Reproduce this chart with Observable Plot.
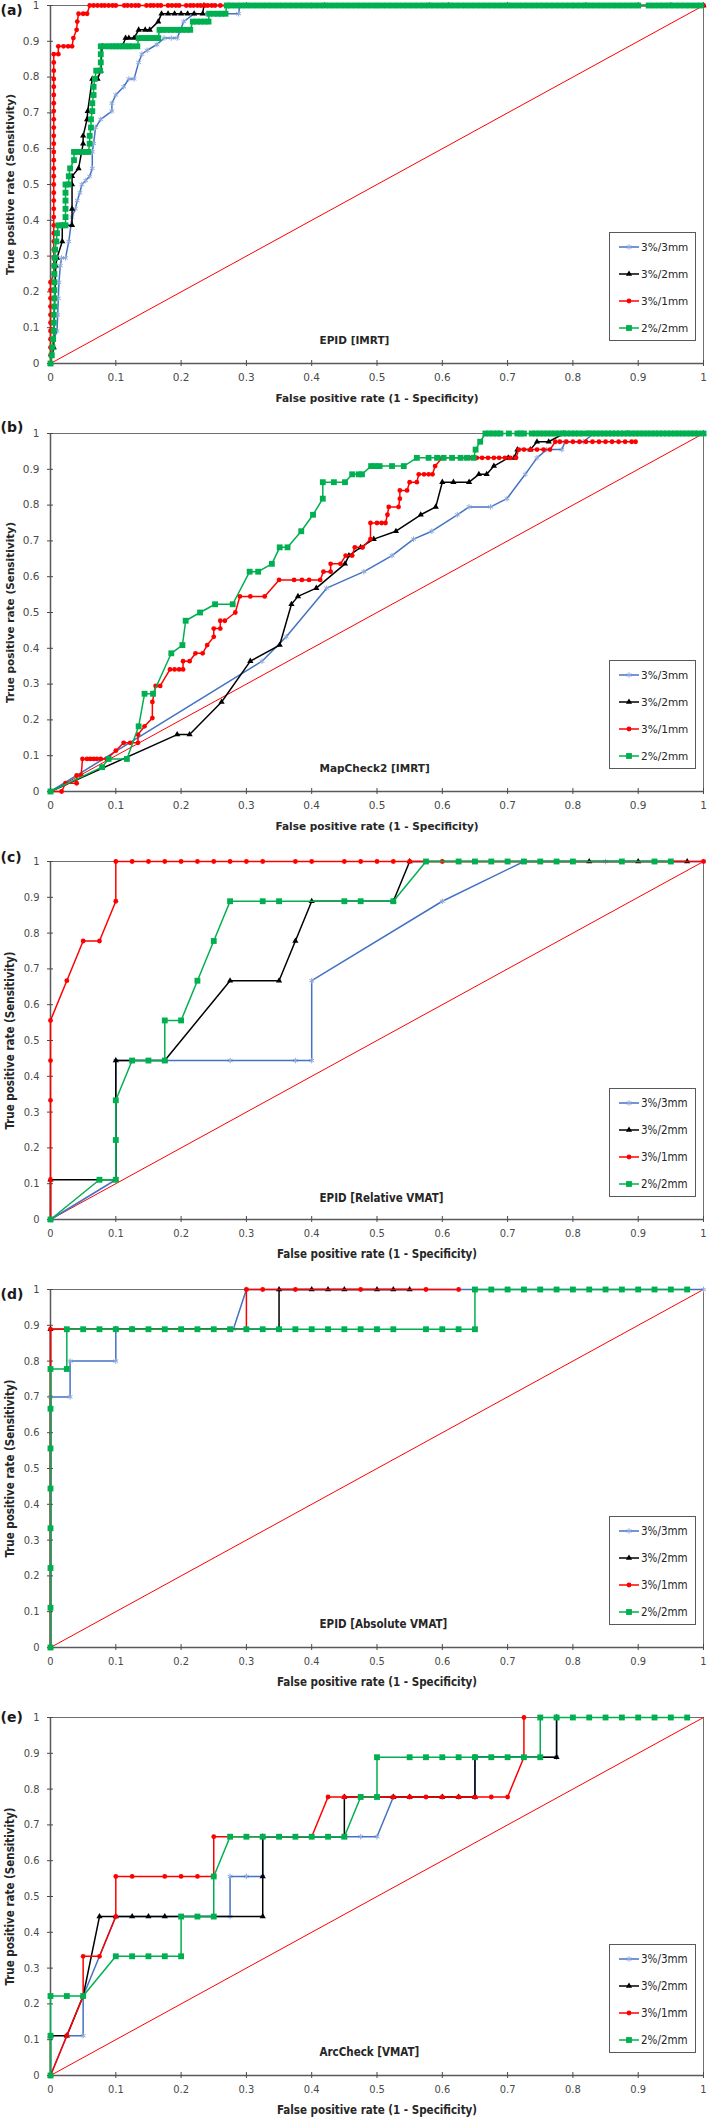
<!DOCTYPE html>
<html><head><meta charset="utf-8">
<script src="https://cdn.jsdelivr.net/npm/d3@7"></script>
<script src="https://cdn.jsdelivr.net/npm/@observablehq/plot@0.6"></script>
<style>
body{margin:0;background:#fff;}
.panel{position:relative;width:709px;overflow:visible;}
.panel svg{display:block;overflow:visible;}
.legend{position:absolute;border:1px solid #595959;background:#fff;box-sizing:border-box;}
.legend .row{position:absolute;left:0;display:flex;align-items:center;height:14px;color:#262626;white-space:nowrap;}
</style></head><body><div id="chart"></div>
<script>
// ---------- shared labels ----------
const seriesNames = ["3%/3mm", "3%/2mm", "3%/1mm", "2%/2mm"];
const lineColors = ["#4472C4", "#000000", "#FF0000", "#00B050"];
const markerColors = ["#8FAADC", "#000000", "#FF0000", "#00B050"];
const markerSymbols = ["asterisk", "triangle", "circle", "square"];
const markerRadii = [2.6, 2.3, 2.4, 3.3];
const xTicks = [0, 0.1, 0.2, 0.3, 0.4, 0.5, 0.6, 0.7, 0.8, 0.9, 1];
const yTicks = [0, 0.1, 0.2, 0.3, 0.4, 0.5, 0.6, 0.7, 0.8, 0.9, 1];
const diagX = [0, 1];
const diagY = [0, 1];
const xTitle = "False positive rate (1 - Specificity)";
const yTitle = "True positive rate (Sensitivity)";
const panelLabels = ["(a)", "(b)", "(c)", "(d)", "(e)"];
const panelTitles = ["EPID [IMRT]", "MapCheck2 [IMRT]", "EPID [Relative VMAT]", "EPID [Absolute VMAT]", "ArcCheck [VMAT]"];

// ---------- (a) EPID [IMRT] ----------
const a33 = [[0,0],[0.003,0.045],[0.005,0.068],[0.01,0.091],[0.011,0.136],[0.012,0.182],[0.013,0.227],[0.015,0.273],[0.017,0.295],[0.023,0.295],[0.028,0.341],[0.033,0.409],[0.038,0.432],[0.041,0.455],[0.045,0.477],[0.048,0.5],[0.054,0.511],[0.06,0.523],[0.064,0.545],[0.064,0.591],[0.066,0.614],[0.069,0.659],[0.077,0.682],[0.094,0.705],[0.094,0.727],[0.1,0.75],[0.112,0.773],[0.12,0.795],[0.128,0.795],[0.135,0.841],[0.14,0.864],[0.148,0.875],[0.163,0.891],[0.174,0.909],[0.185,0.909],[0.194,0.909],[0.204,0.955],[0.22,0.977],[0.24,0.977],[0.26,0.977],[0.288,0.977],[0.29,1],[0.4,1],[0.5,1],[0.6,1],[0.7,1],[0.8,1],[0.9,1],[1,1]];
const a32 = [[0,0],[0.005,0.045],[0.005,0.091],[0.008,0.273],[0.01,0.295],[0.018,0.341],[0.018,0.386],[0.033,0.386],[0.033,0.432],[0.033,0.5],[0.033,0.523],[0.043,0.545],[0.05,0.614],[0.05,0.636],[0.056,0.682],[0.057,0.705],[0.064,0.795],[0.072,0.795],[0.077,0.818],[0.079,0.886],[0.11,0.886],[0.115,0.909],[0.12,0.909],[0.128,0.909],[0.135,0.932],[0.145,0.932],[0.152,0.932],[0.165,0.955],[0.17,0.977],[0.18,0.977],[0.19,0.977],[0.2,0.977],[0.21,0.977],[0.22,0.977],[0.233,0.977],[0.235,1],[0.3,1],[0.42,1],[0.58,1],[0.61,1],[0.7,1],[0.82,1],[0.9,1],[0.95,1],[1,1]];
const a31 = [[0,0],[0,0.023],[0,0.045],[0,0.068],[0,0.091],[0,0.114],[0,0.136],[0,0.159],[0,0.182],[0,0.205],[0,0.227],[0.005,0.25],[0.005,0.273],[0.005,0.295],[0.005,0.318],[0.005,0.341],[0.005,0.364],[0.005,0.386],[0.005,0.409],[0.005,0.432],[0.005,0.455],[0.005,0.477],[0.005,0.5],[0.005,0.523],[0.005,0.545],[0.005,0.568],[0.005,0.591],[0.005,0.614],[0.005,0.636],[0.005,0.659],[0.005,0.682],[0.005,0.705],[0.005,0.727],[0.005,0.75],[0.005,0.773],[0.005,0.795],[0.005,0.818],[0.005,0.841],[0.005,0.864],[0.012,0.864],[0.012,0.886],[0.02,0.886],[0.027,0.886],[0.033,0.886],[0.035,0.909],[0.04,0.932],[0.041,0.955],[0.043,0.977],[0.05,0.977],[0.056,0.977],[0.06,1],[0.066,1],[0.072,1],[0.078,1],[0.083,1],[0.089,1],[0.095,1],[0.1,1],[0.113,1],[0.118,1],[0.124,1],[0.13,1],[0.135,1],[0.147,1],[0.153,1],[0.158,1],[0.164,1],[0.169,1],[0.18,1],[0.186,1],[0.192,1],[0.197,1],[0.208,1],[0.214,1],[0.219,1],[0.225,1],[0.23,1],[0.236,1],[0.241,1],[0.247,1],[0.252,1],[0.26,1],[0.3,1],[0.35,1],[0.43,1],[0.52,1],[0.55,1],[0.62,1],[0.7,1],[0.8,1],[0.9,1],[1,1]];
const a22 = [[0,0],[0.002,0.023],[0.003,0.045],[0.004,0.068],[0.005,0.091],[0.005,0.114],[0.005,0.136],[0.006,0.159],[0.006,0.182],[0.006,0.205],[0.006,0.227],[0.006,0.25],[0.006,0.273],[0.007,0.295],[0.007,0.318],[0.009,0.341],[0.01,0.364],[0.012,0.386],[0.018,0.386],[0.023,0.386],[0.023,0.409],[0.023,0.432],[0.023,0.455],[0.023,0.477],[0.023,0.5],[0.028,0.5],[0.028,0.523],[0.03,0.545],[0.036,0.568],[0.036,0.591],[0.042,0.591],[0.048,0.591],[0.054,0.591],[0.058,0.591],[0.06,0.614],[0.06,0.636],[0.062,0.659],[0.062,0.682],[0.064,0.705],[0.064,0.727],[0.066,0.75],[0.066,0.773],[0.068,0.795],[0.07,0.818],[0.076,0.818],[0.077,0.841],[0.077,0.864],[0.077,0.886],[0.083,0.886],[0.09,0.886],[0.095,0.886],[0.1,0.886],[0.105,0.886],[0.11,0.886],[0.115,0.886],[0.12,0.886],[0.125,0.886],[0.133,0.886],[0.135,0.909],[0.14,0.909],[0.145,0.909],[0.15,0.909],[0.155,0.909],[0.16,0.909],[0.165,0.909],[0.167,0.932],[0.172,0.932],[0.178,0.932],[0.184,0.932],[0.19,0.932],[0.196,0.932],[0.202,0.932],[0.208,0.932],[0.214,0.932],[0.218,0.955],[0.224,0.955],[0.23,0.955],[0.236,0.955],[0.242,0.955],[0.243,0.977],[0.25,0.977],[0.256,0.977],[0.262,0.977],[0.268,0.977],[0.27,1],[0.276,1],[0.284,1],[0.292,1],[0.3,1],[0.308,1],[0.316,1],[0.324,1],[0.332,1],[0.34,1],[0.348,1],[0.356,1],[0.364,1],[0.372,1],[0.38,1],[0.388,1],[0.396,1],[0.404,1],[0.412,1],[0.42,1],[0.428,1],[0.436,1],[0.444,1],[0.452,1],[0.46,1],[0.468,1],[0.476,1],[0.484,1],[0.492,1],[0.5,1],[0.508,1],[0.516,1],[0.524,1],[0.532,1],[0.54,1],[0.548,1],[0.556,1],[0.564,1],[0.572,1],[0.58,1],[0.588,1],[0.596,1],[0.604,1],[0.612,1],[0.62,1],[0.628,1],[0.636,1],[0.644,1],[0.652,1],[0.66,1],[0.668,1],[0.676,1],[0.684,1],[0.692,1],[0.7,1],[0.708,1],[0.716,1],[0.724,1],[0.732,1],[0.74,1],[0.748,1],[0.756,1],[0.764,1],[0.772,1],[0.78,1],[0.788,1],[0.796,1],[0.804,1],[0.812,1],[0.82,1],[0.828,1],[0.836,1],[0.844,1],[0.852,1],[0.86,1],[0.868,1],[0.876,1],[0.884,1],[0.892,1],[0.9,1],[0.916,1],[0.924,1],[0.932,1],[0.94,1],[0.948,1],[0.956,1],[0.964,1],[0.972,1],[0.98,1],[0.988,1],[0.996,1]];

// ---------- (b) MapCheck2 [IMRT] ----------
const b33 = [[0,0],[0.324,0.364],[0.361,0.432],[0.423,0.568],[0.48,0.614],[0.523,0.659],[0.556,0.705],[0.584,0.727],[0.623,0.773],[0.641,0.795],[0.674,0.795],[0.699,0.818],[0.727,0.886],[0.745,0.932],[0.76,0.955],[0.783,0.955],[0.788,0.977],[0.816,0.977],[0.832,1],[1,1]];
const b32 = [[0,0],[0.194,0.159],[0.213,0.159],[0.262,0.25],[0.306,0.364],[0.351,0.409],[0.369,0.523],[0.379,0.545],[0.407,0.568],[0.451,0.636],[0.457,0.659],[0.475,0.682],[0.495,0.705],[0.529,0.727],[0.567,0.773],[0.59,0.795],[0.6,0.864],[0.617,0.864],[0.641,0.864],[0.656,0.886],[0.668,0.886],[0.679,0.909],[0.701,0.932],[0.71,0.932],[0.715,0.955],[0.735,0.955],[0.745,0.977],[0.763,0.977],[0.786,1],[0.823,1],[0.884,1],[1,1]];
const b31 = [[0,0],[0.017,0],[0.023,0.023],[0.04,0.023],[0.04,0.045],[0.047,0.045],[0.049,0.091],[0.056,0.091],[0.061,0.091],[0.066,0.091],[0.071,0.091],[0.077,0.091],[0.086,0.091],[0.1,0.114],[0.112,0.136],[0.122,0.136],[0.134,0.136],[0.134,0.159],[0.144,0.182],[0.156,0.205],[0.156,0.25],[0.161,0.295],[0.168,0.295],[0.183,0.341],[0.19,0.341],[0.197,0.341],[0.203,0.341],[0.203,0.364],[0.213,0.364],[0.222,0.386],[0.233,0.386],[0.24,0.409],[0.25,0.432],[0.25,0.455],[0.26,0.455],[0.26,0.477],[0.267,0.477],[0.283,0.5],[0.29,0.545],[0.306,0.545],[0.328,0.545],[0.35,0.591],[0.373,0.591],[0.385,0.591],[0.396,0.591],[0.413,0.591],[0.418,0.614],[0.429,0.614],[0.429,0.636],[0.444,0.636],[0.452,0.659],[0.462,0.659],[0.466,0.682],[0.478,0.682],[0.49,0.705],[0.49,0.75],[0.5,0.75],[0.507,0.75],[0.513,0.75],[0.516,0.773],[0.518,0.795],[0.533,0.795],[0.535,0.818],[0.535,0.841],[0.546,0.841],[0.55,0.864],[0.561,0.864],[0.564,0.886],[0.572,0.886],[0.579,0.886],[0.585,0.886],[0.589,0.909],[0.6,0.932],[0.628,0.932],[0.636,0.932],[0.645,0.932],[0.653,0.932],[0.661,0.932],[0.67,0.932],[0.679,0.932],[0.687,0.932],[0.696,0.932],[0.704,0.932],[0.713,0.932],[0.717,0.955],[0.725,0.955],[0.735,0.955],[0.745,0.955],[0.755,0.955],[0.765,0.955],[0.773,0.977],[0.78,0.977],[0.79,0.977],[0.8,0.977],[0.81,0.977],[0.82,0.977],[0.83,0.977],[0.84,0.977],[0.85,0.977],[0.86,0.977],[0.87,0.977],[0.88,0.977],[0.89,0.977],[0.896,0.977]];
const b22 = [[0,0],[0.079,0.068],[0.089,0.091],[0.117,0.091],[0.135,0.182],[0.144,0.273],[0.157,0.273],[0.185,0.386],[0.202,0.409],[0.207,0.477],[0.229,0.5],[0.252,0.523],[0.279,0.523],[0.305,0.614],[0.318,0.614],[0.339,0.636],[0.351,0.682],[0.363,0.682],[0.384,0.727],[0.402,0.773],[0.417,0.818],[0.417,0.864],[0.434,0.864],[0.451,0.864],[0.462,0.886],[0.472,0.886],[0.477,0.886],[0.491,0.909],[0.497,0.909],[0.504,0.909],[0.523,0.909],[0.541,0.909],[0.561,0.932],[0.579,0.932],[0.592,0.932],[0.602,0.932],[0.615,0.932],[0.628,0.932],[0.638,0.932],[0.648,0.932],[0.651,0.955],[0.658,0.977],[0.666,1],[0.672,1],[0.678,1],[0.684,1],[0.689,1],[0.702,1],[0.715,1],[0.72,1],[0.725,1],[0.737,1],[0.743,1],[0.749,1],[0.755,1],[0.761,1],[0.767,1],[0.773,1],[0.779,1],[0.785,1],[0.791,1],[0.797,1],[0.803,1],[0.809,1],[0.816,1],[0.824,1],[0.83,1],[0.836,1],[0.842,1],[0.848,1],[0.854,1],[0.86,1],[0.866,1],[0.872,1],[0.878,1],[0.884,1],[0.89,1],[0.896,1],[0.902,1],[0.908,1],[0.914,1],[0.92,1],[0.926,1],[0.932,1],[0.938,1],[0.944,1],[0.95,1],[0.956,1],[0.962,1],[0.968,1],[0.974,1],[0.98,1],[0.986,1],[0.992,1],[1,1]];

// ---------- (c) EPID [Relative VMAT] ----------
const c33 = [[0,0],[0.1,0.111],[0.1,0.444],[0.275,0.444],[0.375,0.444],[0.4,0.444],[0.4,0.667],[0.6,0.889],[0.725,1],[0.85,1],[1,1]];
const c32 = [[0,0],[0,0.111],[0.1,0.111],[0.1,0.444],[0.175,0.444],[0.275,0.667],[0.35,0.667],[0.375,0.778],[0.4,0.889],[0.525,0.889],[0.55,1],[0.825,1],[0.9,1],[0.975,1]];
const c31 = [[0,0],[0,0.111],[0,0.333],[0,0.444],[0,0.556],[0.025,0.667],[0.05,0.778],[0.075,0.778],[0.1,0.889],[0.1,1],[0.125,1],[0.15,1],[0.175,1],[0.2,1],[0.225,1],[0.25,1],[0.275,1],[0.3,1],[0.325,1],[0.375,1],[0.4,1],[0.45,1],[0.475,1],[0.5,1],[0.525,1],[0.55,1],[0.6,1],[1,1]];
const c22 = [[0,0],[0.075,0.111],[0.1,0.111],[0.1,0.222],[0.1,0.333],[0.125,0.444],[0.15,0.444],[0.175,0.444],[0.175,0.556],[0.2,0.556],[0.225,0.667],[0.25,0.778],[0.275,0.889],[0.325,0.889],[0.35,0.889],[0.45,0.889],[0.475,0.889],[0.525,0.889],[0.575,1],[0.625,1],[0.65,1],[0.675,1],[0.7,1],[0.725,1],[0.75,1],[0.775,1],[0.8,1],[0.875,1],[0.925,1],[0.95,1]];

// ---------- (d) EPID [Absolute VMAT] ----------
const d33 = [[0,0],[0,0.7],[0.03,0.7],[0.03,0.8],[0.1,0.8],[0.1,0.889],[0.28,0.889],[0.3,1],[1,1]];
const d32 = [[0,0],[0,0.889],[0.1,0.889],[0.125,0.889],[0.35,0.889],[0.35,1],[0.4,1],[0.425,1],[0.45,1],[0.5,1],[0.525,1],[0.55,1]];
const d31 = [[0,0],[0,0.889],[0.3,0.889],[0.3,1],[0.325,1],[0.375,1],[0.475,1],[0.575,1],[0.625,1]];
const d22 = [[0,0],[0,0.111],[0,0.222],[0,0.333],[0,0.444],[0,0.556],[0,0.667],[0,0.778],[0.025,0.778],[0.025,0.889],[0.05,0.889],[0.075,0.889],[0.1,0.889],[0.125,0.889],[0.15,0.889],[0.175,0.889],[0.2,0.889],[0.225,0.889],[0.25,0.889],[0.275,0.889],[0.3,0.889],[0.325,0.889],[0.35,0.889],[0.375,0.889],[0.4,0.889],[0.425,0.889],[0.45,0.889],[0.475,0.889],[0.5,0.889],[0.525,0.889],[0.575,0.889],[0.6,0.889],[0.625,0.889],[0.65,0.889],[0.65,1],[0.675,1],[0.7,1],[0.725,1],[0.75,1],[0.775,1],[0.8,1],[0.825,1],[0.85,1],[0.875,1],[0.9,1],[0.925,1],[0.95,1],[0.975,1]];

// ---------- (e) ArcCheck [VMAT] ----------
const e33 = [[0,0],[0.025,0.111],[0.05,0.111],[0.05,0.222],[0.1,0.444],[0.275,0.444],[0.275,0.556],[0.3,0.556],[0.325,0.556],[0.325,0.667],[0.475,0.667],[0.5,0.667],[0.525,0.778],[0.65,0.778],[0.65,0.889],[0.775,0.889],[0.775,1]];
const e32 = [[0,0],[0,0.111],[0.025,0.111],[0.05,0.222],[0.075,0.444],[0.1,0.444],[0.125,0.444],[0.15,0.444],[0.175,0.444],[0.325,0.444],[0.325,0.556],[0.325,0.667],[0.45,0.667],[0.45,0.778],[0.525,0.778],[0.55,0.778],[0.6,0.778],[0.625,0.778],[0.65,0.778],[0.65,0.889],[0.775,0.889],[0.775,1]];
const e31 = [[0,0],[0.025,0.111],[0.05,0.222],[0.05,0.333],[0.075,0.333],[0.1,0.444],[0.1,0.556],[0.125,0.556],[0.175,0.556],[0.2,0.556],[0.225,0.556],[0.25,0.556],[0.25,0.667],[0.4,0.667],[0.425,0.778],[0.45,0.778],[0.475,0.778],[0.525,0.778],[0.55,0.778],[0.575,0.778],[0.6,0.778],[0.625,0.778],[0.65,0.778],[0.675,0.778],[0.7,0.778],[0.725,0.889],[0.725,1]];
const e22 = [[0,0],[0,0.111],[0,0.222],[0.025,0.222],[0.05,0.222],[0.1,0.333],[0.125,0.333],[0.15,0.333],[0.175,0.333],[0.2,0.333],[0.2,0.444],[0.225,0.444],[0.25,0.444],[0.25,0.556],[0.275,0.667],[0.3,0.667],[0.325,0.667],[0.35,0.667],[0.375,0.667],[0.4,0.667],[0.425,0.667],[0.45,0.667],[0.475,0.778],[0.5,0.778],[0.5,0.889],[0.55,0.889],[0.575,0.889],[0.6,0.889],[0.625,0.889],[0.65,0.889],[0.675,0.889],[0.7,0.889],[0.725,0.889],[0.75,0.889],[0.75,1],[0.775,1],[0.8,1],[0.825,1],[0.85,1],[0.875,1],[0.9,1],[0.925,1],[0.95,1],[0.975,1]];

const panelSeries = [[a33,a32,a31,a22],[b33,b32,b31,b22],[c33,c32,c31,c22],[d33,d32,d31,d22],[e33,e32,e31,e22]];

// layout (per panel)
const layout = [
  {height: 418, top: 5, bottom: 55, labelDy: 5, titleDy: -23},
  {height: 428, top: 15, bottom: 55, labelDy: -6, titleDy: -23},
  {height: 428, top: 15, bottom: 55, labelDy: -4, titleDy: -21},
  {height: 428, top: 15, bottom: 55, labelDy: 5, titleDy: -23},
  {height: 416, top: 15, bottom: 43, labelDy: 0, titleDy: -23}
];

const fmt = d => String(Math.round(d * 10) / 10);
const root = document.getElementById("chart");

function symbolPath(k, r) {
  const map = {asterisk: d3.symbolAsterisk, triangle: d3.symbolTriangle, circle: d3.symbolCircle, square: d3.symbolSquare};
  return d3.symbol(map[markerSymbols[k]], r * r * Math.PI)();
}

panelSeries.forEach((series, i) => {
  const L = layout[i];
  const condensed = i >= 2;
  const font = condensed ? "'DejaVu Sans Condensed', 'DejaVu Sans', sans-serif" : "'DejaVu Sans', sans-serif";
  const tickFs = condensed ? 11 : 10.5;
  const titleFs = condensed ? 11.5 : 10.5;
  const marks = [
    Plot.frame({stroke: "#6f6f6f", strokeWidth: 1}),
    Plot.ruleX([0], {stroke: "#595959", strokeWidth: 1.5}),
    Plot.ruleY([0], {stroke: "#595959", strokeWidth: 1.5}),
    Plot.axisY(yTicks, {tickSize: 3, tickPadding: 8, tickFormat: fmt, label: null, color: "#4a4a4a", fontSize: tickFs}),
    Plot.axisY(yTicks, {tickSize: 3, dx: 3, tickFormat: () => "", label: null, color: "#4a4a4a"}),
    Plot.axisX(xTicks, {tickSize: 3, tickPadding: 7, tickFormat: fmt, label: null, color: "#4a4a4a", fontSize: tickFs}),
    Plot.axisX(xTicks, {tickSize: 3, dy: -3, tickFormat: () => "", label: null, color: "#4a4a4a"}),
    Plot.line(diagX.map((x, j) => ({x, y: diagY[j]})), {x: "x", y: "y", stroke: "#FF0000", strokeWidth: 1})
  ];
  series.forEach((s, k) => {
    marks.push(Plot.line(s, {x: d => d[0], y: d => d[1], stroke: lineColors[k], strokeWidth: 1.5}));
    if (k === 0) {
      marks.push(Plot.dot(s, {x: d => d[0], y: d => d[1], symbol: "asterisk", r: markerRadii[k], fill: "none", stroke: markerColors[k], strokeWidth: 1}));
    } else {
      marks.push(Plot.dot(s, {x: d => d[0], y: d => d[1], symbol: markerSymbols[k], r: markerRadii[k], fill: markerColors[k], stroke: "none"}));
    }
  });
  marks.push(
    Plot.text([panelLabels[i]], {text: d => d, frameAnchor: "top-left", dx: -50, dy: L.labelDy, textAnchor: "start", lineAnchor: "middle", fontWeight: "bold", fontSize: 14, fill: "#1a1a1a", fontFamily: "'DejaVu Sans', sans-serif"}),
    Plot.text([panelTitles[i]], {text: d => d, frameAnchor: "bottom-left", dx: 269, dy: L.titleDy, textAnchor: "start", lineAnchor: "middle", fontWeight: "bold", fontSize: titleFs, fill: "#262626"}),
    Plot.text([xTitle], {text: d => d, frameAnchor: "bottom", dy: 35, textAnchor: "middle", lineAnchor: "middle", fontWeight: "bold", fontSize: titleFs, fill: "#262626"}),
    Plot.text([yTitle], {text: d => d, frameAnchor: "left", dx: -40, rotate: -90, textAnchor: "middle", lineAnchor: "middle", fontWeight: "bold", fontSize: titleFs, fill: "#262626"})
  );
  const svg = Plot.plot({
    width: 709, height: L.height,
    marginLeft: 50, marginRight: 6, marginTop: L.top, marginBottom: L.bottom,
    x: {domain: [0, 1]}, y: {domain: [0, 1]},
    style: {fontFamily: font, fontSize: tickFs + "px", background: "#fff", overflow: "visible"},
    marks
  });
  const div = document.createElement("div");
  div.className = "panel";
  div.style.height = L.height + "px";
  div.appendChild(svg);

  // legend box
  const leg = document.createElement("div");
  leg.className = "legend";
  leg.style.left = "609px";
  leg.style.top = (L.top + 227) + "px";
  leg.style.width = "87px";
  leg.style.height = "109px";
  leg.style.fontFamily = font;
  leg.style.fontSize = (condensed ? 11.5 : 10.5) + "px";
  seriesNames.forEach((name, k) => {
    const row = document.createElement("div");
    row.className = "row";
    row.style.top = (7 + 27 * k) + "px";
    row.style.left = "8px";
    const mark = k === 0
      ? `<path d="${symbolPath(k, markerRadii[k])}" transform="translate(11,7)" fill="none" stroke="${markerColors[k]}" stroke-width="1"/>`
      : `<path d="${symbolPath(k, markerRadii[k])}" transform="translate(11,7)" fill="${markerColors[k]}"/>`;
    row.innerHTML = `<svg width="22" height="14" style="display:block"><line x1="1" x2="21" y1="7" y2="7" stroke="${lineColors[k]}" stroke-width="1.5"/>${mark}</svg><span style="margin-left:1px">${name}</span>`;
    leg.appendChild(row);
  });
  div.appendChild(leg);
  root.appendChild(div);
});
</script>
</body></html>
